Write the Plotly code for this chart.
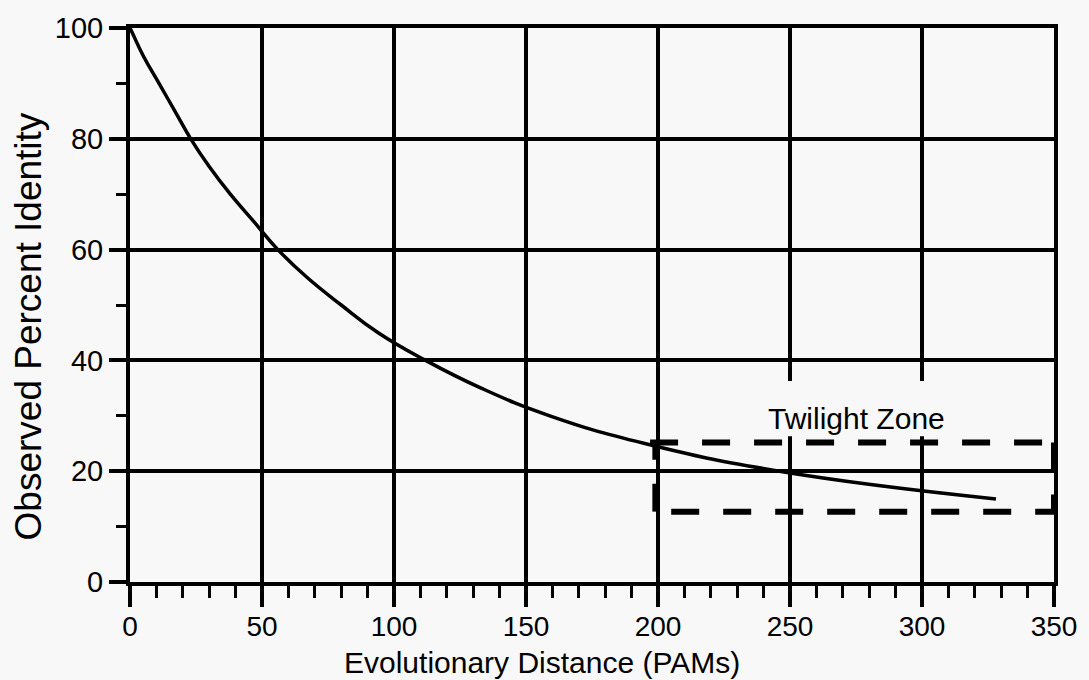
import plotly.graph_objects as go

# Dayhoff PAM distance vs observed percent identity
pam_distance = [0, 1, 5, 11, 17, 23, 30, 38, 47, 56, 67, 80, 94, 112, 133, 159, 195, 246, 328]
percent_identity = [100, 99, 95, 90, 85, 80, 75, 70, 65, 60, 55, 50, 45, 40, 35, 30, 25, 20, 15]

x_ticks = [0, 50, 100, 150, 200, 250, 300, 350]
y_ticks = [0, 20, 40, 60, 80, 100]

zone_x = [199, 350]
zone_y = [12.7, 25.2]
zone_label = "Twilight Zone"

BG = "#f8f8f8"
FONT = "Liberation Sans, Arial, Helvetica, sans-serif"

fig = go.Figure()
fig.add_trace(go.Scatter(
    x=pam_distance, y=percent_identity, mode="lines",
    line=dict(color="black", width=3.5, shape="spline", smoothing=1.3),
    showlegend=False, hoverinfo="skip",
))

dash = "28px,24px"
shapes = [
    # background box hiding grid behind label
    dict(type="rect", xref="x", yref="y", x0=210, x1=345, y0=26.3, y1=36.3,
         fillcolor=BG, line=dict(width=0), layer="above"),
    dict(type="line", xref="x", yref="y", x0=zone_x[0] - 2, x1=zone_x[1], y0=zone_y[1], y1=zone_y[1],
         line=dict(color="black", width=6, dash=dash), layer="above"),
    dict(type="line", xref="x", yref="y", x0=zone_x[0] + 6, x1=zone_x[1], y0=zone_y[0], y1=zone_y[0],
         line=dict(color="black", width=6, dash=dash), layer="above"),
    dict(type="line", xref="x", yref="y", x0=zone_x[0], x1=zone_x[0], y0=zone_y[0], y1=zone_y[1],
         line=dict(color="black", width=6, dash=dash), layer="above"),
    dict(type="line", xref="x", yref="y", x0=zone_x[1], x1=zone_x[1], y0=zone_y[1], y1=zone_y[0],
         line=dict(color="black", width=6, dash=dash), layer="above"),
]

annotations = [
    dict(text=zone_label, x=275, y=29.5, xref="x", yref="y", showarrow=False,
         font=dict(family=FONT, size=30, color="black")),
    dict(text="Evolutionary Distance (PAMs)", x=0.4463, y=-0.145, xref="paper", yref="paper",
         xanchor="center", yanchor="middle", showarrow=False,
         font=dict(family=FONT, size=30, color="black")),
    dict(text="Observed Percent Identity", x=-0.110, y=0.462, xref="paper", yref="paper",
         xanchor="center", yanchor="middle", textangle=-90, showarrow=False,
         font=dict(family=FONT, size=37, color="black")),
]

fig.update_layout(
    width=1089, height=680,
    margin=dict(l=130, r=29, t=21, b=98),
    paper_bgcolor=BG, plot_bgcolor=BG,
    font=dict(family=FONT, color="black"),
    shapes=shapes, annotations=annotations,
    xaxis=dict(
        range=[0, 350], tickvals=x_ticks, ticktext=[str(v) for v in x_ticks],
        showgrid=True, gridcolor="black", gridwidth=3.5,
        showline=True, linecolor="black", linewidth=4, mirror=True,
        zeroline=False, ticks="outside", ticklen=21, tickwidth=3.5, tickcolor="black",
        tickfont=dict(family=FONT, size=28, color="black"),
        minor=dict(dtick=10, ticks="outside", ticklen=12, tickwidth=3, tickcolor="black", showgrid=False),
    ),
    yaxis=dict(
        range=[0, 100], tickvals=y_ticks, ticktext=[str(v) for v in y_ticks],
        showgrid=True, gridcolor="black", gridwidth=3.5,
        showline=True, linecolor="black", linewidth=4, mirror=True,
        zeroline=False, ticks="outside", ticklen=17, tickwidth=3.5, tickcolor="black",
        tickfont=dict(family=FONT, size=29, color="black"),
        minor=dict(dtick=10, ticks="outside", ticklen=10, tickwidth=3, tickcolor="black", showgrid=False),
    ),
)

try:
    fig.update_xaxes(ticklabelstandoff=-5)
except Exception:
    pass

fig.write_html("out.html")
